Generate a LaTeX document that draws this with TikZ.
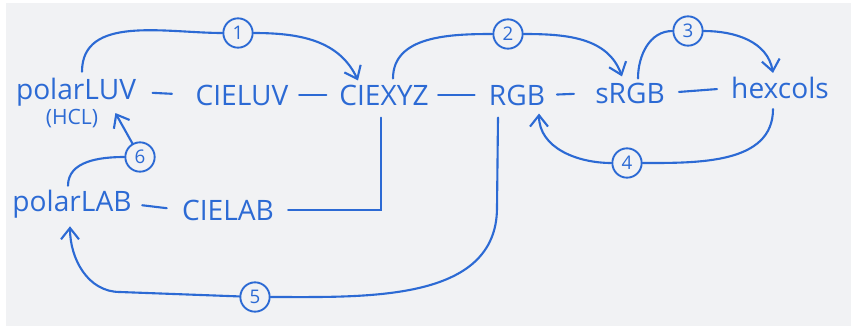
\documentclass[tikz,border=0pt]{standalone}
\usepackage{fontspec}
\setmainfont{Open Sans}
\usetikzlibrary{positioning,arrows.meta}
\definecolor{ink}{RGB}{44,106,212}
\definecolor{paper}{RGB}{241,242,244}

\begin{document}
\begin{tikzpicture}[
  x=0.03cm, y=-0.03cm,
  lbl/.style={inner sep=0pt, text=ink, font=\fontsize{24}{26}\selectfont},
  small/.style={inner sep=0pt, text=ink, font=\fontsize{18}{20}\selectfont},
  num/.style={circle, draw=ink, line width=1.6pt, minimum size=0.88cm, inner sep=0pt, text=ink, font=\fontsize{16}{18}\selectfont},
  link/.style={draw=ink, line width=1.8pt, line cap=round},
  arrow/.style={link, -{Straight Barb[length=3.4mm, width=5.4mm, line width=1.8pt]}}
]
% page
\fill[white] (0,0) rectangle (851,331);
\fill[paper] (6,3) rectangle (851,326);
\useasboundingbox (0,0) rectangle (851,331);

% colour spaces
\node[lbl] (pluv) at (76,92) {polarLUV};
\node[small] (hcl) at (72,119) {(HCL)};
\node[lbl] (cieluv) at (242,95) {CIELUV};
\node[lbl] (ciexyz) at (384,95) {CIEXYZ};
\node[lbl] (rgb) at (517,95) {RGB};
\node[lbl] (srgb) at (630,93) {sRGB};
\node[lbl] (hex) at (780,88) {hexcols};
\node[lbl] (plab) at (72,204) {polarLAB};
\node[lbl] (cielab) at (228,210) {CIELAB};

% steps
\node[num] (c1) at (238,33) {1};
\node[num] (c2) at (508,34) {2};
\node[num] (c3) at (688,31) {3};
\node[num] (c4) at (627,163) {4};
\node[num] (c5) at (255,297) {5};
\node[num] (c6) at (140,157) {6};

% dashes between neighbours
\draw[link, shorten <=14pt, shorten >=20pt] (pluv.east) -- (cieluv.west);
\draw[link, shorten <=9pt, shorten >=11pt] (cieluv.east) -- (ciexyz.west);
\draw[link, shorten <=8pt, shorten >=12pt] (ciexyz.east) -- (rgb.west);
\draw[link, shorten <=10pt, shorten >=18pt] (rgb.east) -- (srgb.west);
\draw[link, shorten <=12pt, shorten >=12pt] (srgb.east) -- (hex.west);
\draw[link, shorten <=9pt, shorten >=13pt] (plab.east) -- (cielab.west);

% CIEXYZ down to CIELAB
\draw[link] ([shift={(-3,12)}]ciexyz.south) |- ([shift={(14,0)}]cielab.east);

% numbered conversions
\draw[link] ([shift={(6,-6)}]pluv.north) to[out=90, in=180] (c1);
\draw[arrow] (c1) to[out=0, in=115] ([shift={(-26,-4)}]ciexyz.north);
\draw[link] ([shift={(9,-6)}]ciexyz.north) to[out=90, in=180] (c2);
\draw[arrow] (c2) to[out=0, in=110] ([shift={(-8,-6)}]srgb.north);
\draw[link] ([shift={(8,-4)}]srgb.north) to[out=90, in=180] (c3);
\draw[arrow] (c3) to[out=0, in=100] ([shift={(-7,-4)}]hex.north);
\draw[link] ([shift={(-7,10)}]hex.south) to[out=-90, in=0] (c4);
\draw[arrow] (c4) to[out=180, in=-90] ([shift={(22,8)}]rgb.south);
\draw[link] ([shift={(-19,12)}]rgb.south) -- ++(-1,90) to[out=-90, in=0] (c5);
\draw[arrow] (c5) -- ++(-135,-5) to[out=180, in=-90] ([shift={(-2,8)}]plab.south);
\draw[link] ([shift={(-4,-4)}]plab.north) to[out=90, in=180] (c6);
\draw[arrow] (c6) -- ([shift={(17,-6)}]hcl.east);
\end{tikzpicture}
\end{document}
